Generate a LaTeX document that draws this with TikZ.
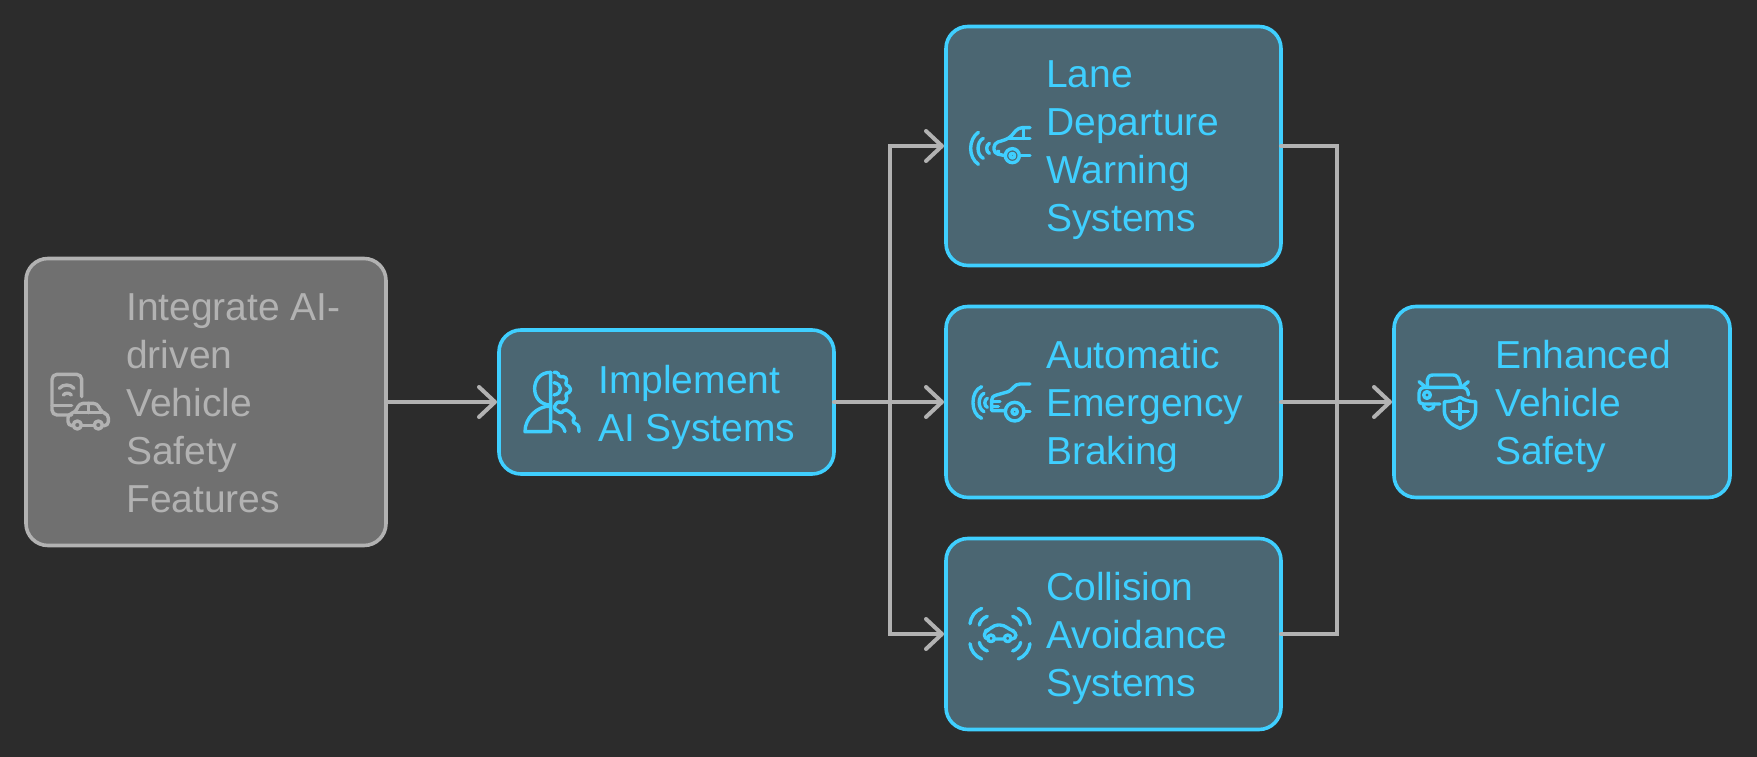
\documentclass[tikz,border=0pt]{standalone}
\usepackage{fontspec}
\setmainfont{Liberation Sans}
\usetikzlibrary{arrows.meta}
\definecolor{pagebg}{HTML}{2C2C2C}
\definecolor{skyline}{HTML}{3FCFFF}
\definecolor{skyfill}{HTML}{4B6672}
\definecolor{greyline}{HTML}{B2B2B2}
\definecolor{greyfill}{HTML}{707070}
\tikzset{
  x=1pt,y=-1pt,
  flowbox/.style={draw,rounded corners=22pt,line width=3.6pt,outer sep=0pt,inner sep=0pt},
  skybox/.style={flowbox,draw=skyline,fill=skyfill},
  greybox/.style={flowbox,draw=greyline,fill=greyfill},
  boxtext/.style={anchor=west,align=left,inner sep=0pt,yshift=-5pt,text=skyline,font=\fontsize{39}{48}\selectfont},
  link/.style={draw=greyline,line width=4pt,line cap=round},
  flow/.style={link,-{Straight Barb[length=16pt,width=30pt,round]},shorten >=2pt},
  icon/.style={line width=3.4pt,line cap=round,line join=round},
  zoomed/.style 2 args={shift={(#1,#2)},scale=1/3},
}
\begin{document}
\begin{tikzpicture}
\useasboundingbox (0,0) rectangle (1757,757);
\fill[pagebg] (0,0) rectangle (1757,757);

% boxes
\node[greybox,minimum width=360pt,minimum height=287pt] (goal) at (206,402) {};
\node[skybox,minimum width=335pt,minimum height=144pt] (impl) at (666.5,402) {};
\node[skybox,minimum width=335pt,minimum height=239pt] (lane) at (1113.5,146) {};
\node[skybox,minimum width=335pt,minimum height=191pt] (brake) at (1113.5,402) {};
\node[skybox,minimum width=335pt,minimum height=191pt] (avoid) at (1113.5,634) {};
\node[skybox,minimum width=336pt,minimum height=191pt] (safety) at (1562,402) {};

% texts
\node[boxtext,text=greyline] (goal text) at (126,398) {Integrate AI-\\driven\\Vehicle\\Safety\\Features};
\node[boxtext] (impl text) at (598,402) {Implement\\AI Systems};
\node[boxtext] (lane text) at (1046,145.5) {Lane\\Departure\\Warning\\Systems};
\node[boxtext] (brake text) at (1046,401.5) {Automatic\\Emergency\\Braking};
\node[boxtext] (avoid text) at (1046,633.5) {Collision\\Avoidance\\Systems};
\node[boxtext] (safety text) at (1495,401.5) {Enhanced\\Vehicle\\Safety};

% connectors
\coordinate (split) at (890,402);
\coordinate (merge) at (1337,402);
\draw[flow] (goal.east) -- (impl.west);
\draw[flow] (impl.east) -- (brake.west);
\draw[flow] (split) |- (lane.west);
\draw[flow] (split) |- (avoid.west);
\draw[link] (lane.east) -| (merge);
\draw[link] (avoid.east) -| (merge);
\draw[flow] (brake.east) -- (safety.west);

% phone and car
\begin{scope}[zoomed={0}{240},icon,draw=greyline]
  \draw[rounded corners=5pt] (215,525) -- (156,525) -- (156,403) -- (245,403) -- (245,470);
  \draw (156,497) -- (215,497);
  \draw (178,445) to[bend left=50] (222,445);
  \draw (190,465) to[bend left=50] (214,465);
  \draw[rounded corners=4pt] (220,557) -- (204,557) -- (204,522) -- (226,518) -- (238,490) -- (292,490) -- (305,518) -- (325,522) -- (325,557) -- (310,557);
  \draw (226,518) -- (305,518) (265,490) -- (265,518) (245,557) -- (282,557);
  \draw (232,555) circle (12) (295,555) circle (12);
\end{scope}

% head and gear
\begin{scope}[zoomed={480}{310},icon,draw=skyline]
  \draw (212,187) .. controls (148,187) and (148,285) .. (212,285);
  \draw (212,187) -- (212,365) -- (135,365) .. controls (135,325) and (170,288) .. (212,288);
  \draw[rounded corners=1.5pt] (222,187) -- (233,187) -- (238,201) -- (254,199) -- (262,212) -- (255,222) -- (271,232) -- (271,246) -- (256,252) -- (262,268) -- (250,280) -- (236,274) -- (225,285) -- (222,295) -- (243,310) -- (255,298) -- (270,306) -- (285,322) -- (277,335) -- (296,347) -- (297,365);
  \draw (222,218) .. controls (248,222) and (248,251) .. (222,255);
  \draw (220,335) .. controls (240,338) and (252,350) .. (255,365);
\end{scope}

% car with waves, lane
\begin{scope}[zoomed={930}{10},icon,draw=skyline]
  \draw (145,367) to[bend right=55] (145,463);
  \draw (160,385) to[bend right=65] (160,445);
  \draw (178,400) to[bend right=65] (178,430);
  \draw[rounded corners=4pt] (300,353) -- (265,353) -- (238,385) -- (192,400) -- (192,430) -- (225,437);
  \draw (238,385) -- (300,385) (281,355) -- (281,385) (268,437) -- (300,437);
  \draw (247,437) circle (21) (247,437) circle (7) (205,425) circle (2);
\end{scope}

% car with waves, brake
\begin{scope}[zoomed={930}{290},icon,draw=skyline]
  \draw (155,290) to[bend right=70] (155,385);
  \draw (162,310) to[bend right=64] (162,365);
  \draw (172,325) to[bend right=73] (172,352);
  \draw (300,282) -- (270,282) .. controls (252,282) and (248,300) .. (235,305) -- (200,315) .. controls (190,318) and (185,322) .. (185,330) -- (185,362) -- (226,362);
  \draw (185,335) -- (210,335) (185,350) -- (205,350) (282,365) -- (300,365);
  \draw (254,365) circle (28) (254,365) circle (8);
\end{scope}

% car with waves, avoid
\begin{scope}[zoomed={930}{525},icon,draw=skyline]
  \draw[rounded corners=4pt] (173,342) -- (163,342) -- (163,318) -- (178,315) -- (192,300) -- (222,300) -- (240,315) -- (258,320) -- (258,342) -- (245,342);
  \draw (195,342) -- (222,342) (183,340) circle (10) (233,340) circle (10);
  \foreach \sx in {1,-1} {
    \foreach \sy in {1,-1} {
      \begin{scope}[shift={(210,326)},xscale=\sx,yscale=\sy]
        \draw (55,-76) .. controls (75,-68) and (88,-50) .. (90,-30);
        \draw (38,-52) .. controls (50,-48) and (60,-38) .. (62,-26);
      \end{scope}
    }
  }
\end{scope}

% car with shield
\begin{scope}[zoomed={1340}{290},icon,draw=skyline]
  \draw (262,288) -- (262,270) .. controls (265,258) and (270,255) .. (280,255) -- (340,255) .. controls (350,255) and (358,262) .. (362,288);
  \draw (237,275) -- (255,290) (385,275) -- (367,290);
  \draw (300,342) -- (250,342) .. controls (242,342) and (237,337) .. (237,330) -- (237,310) .. controls (238,298) and (245,292) .. (255,292) -- (370,292) .. controls (380,295) and (385,302) .. (385,315);
  \draw (261,315) circle (10);
  \draw (250,342) .. controls (250,365) and (282,365) .. (282,342);
  \draw (360,322) .. controls (345,332) and (330,335) .. (313,335) -- (313,365) .. controls (315,390) and (335,405) .. (360,415) .. controls (385,405) and (405,390) .. (407,365) -- (407,335) .. controls (390,335) and (375,332) .. (360,322);
  \draw (335,365) -- (385,365) (360,340) -- (360,390);
\end{scope}
\end{tikzpicture}
\end{document}
